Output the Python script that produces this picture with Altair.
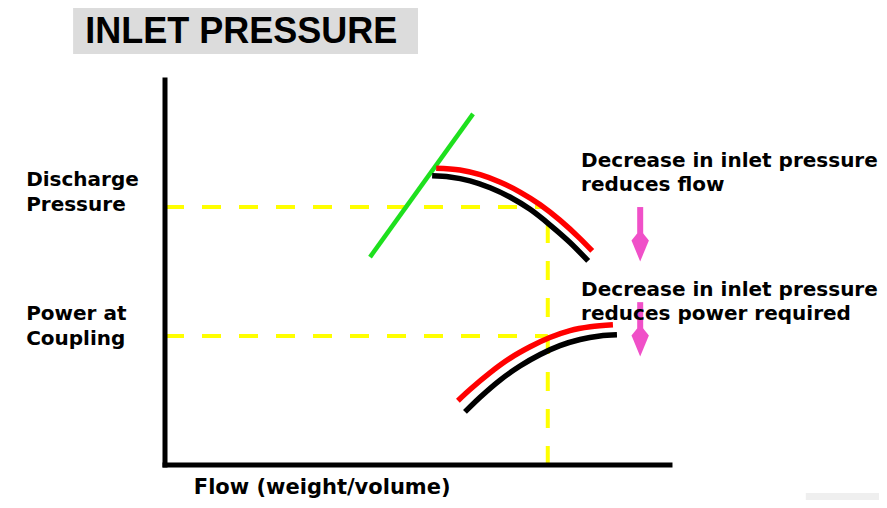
import altair as alt
import pandas as pd

# ---- chart values (schematic units: flow 0-100 along x axis, 0-100 along y axis) ----
X_DOMAIN = [-31.09, 141.39]
Y_DOMAIN = [-9.09, 118.70]

AXIS_FLOW = [0, 100]
AXIS_VALUE = [0, 100]

# pump head curves (discharge pressure)
head_flow_black = [52.9, 56.4, 60.4, 64.4, 68.3, 72.3, 76.2, 80.2, 83.8]
head_black = [75.1, 74.8, 73.8, 72.0, 69.6, 66.4, 62.4, 57.8, 53.0]
head_flow_red = [53.7, 58.4, 62.4, 66.3, 70.3, 74.3, 78.2, 82.2, 84.6]
head_red = [77.1, 76.6, 75.4, 73.5, 70.9, 67.6, 63.6, 58.8, 55.6]

# power curves
power_flow_black = [59.4, 62.4, 66.3, 70.3, 74.3, 78.2, 82.2, 86.1, 89.5]
power_black = [13.8, 17.6, 22.0, 25.7, 28.7, 31.0, 32.6, 33.5, 33.8]
power_flow_red = [58.0, 60.4, 64.4, 68.3, 72.3, 76.2, 80.2, 84.2, 88.7]
power_red = [16.7, 19.6, 24.0, 27.7, 30.7, 33.1, 34.9, 35.9, 36.4]

# system curve (green)
system_flow = [40.6, 61.0]
system_head = [54.0, 91.2]

# operating point guides
DISCHARGE_LEVEL = 67.0
DISCHARGE_END = 75.0
POWER_LEVEL = 33.5
OPERATING_FLOW = 75.8

# arrows
arrow_flow = [94.1, 94.1]
arrow_top = [67.0, 42.3]
arrow_head = [56.5, 31.8]

# texts
title_text = "INLET PRESSURE"
title_pos = [-15.8, 109.6]
title_box = [-18.2, 50.1, 106.75, 120.0]
left_labels = [["Discharge", "Pressure"], ["Power at", "Coupling"]]
left_label_y = [72.5, 37.7]
left_label_x = -27.5
notes = [["Decrease in inlet pressure", "reduces flow"],
         ["Decrease in inlet pressure", "reduces power required"]]
notes_y = [77.5, 43.9]
notes_x = 82.4
x_label = "Flow (weight/volume)"
x_label_pos = [5.7, -7.5]
corner_box = [126.9, 141.4, -9.1, -7.3]

xs = alt.Scale(domain=X_DOMAIN, nice=False, zero=False)
ys = alt.Scale(domain=Y_DOMAIN, nice=False, zero=False)


def X(f):
    return alt.X(f, type="quantitative", scale=xs, axis=None)


def Y(f):
    return alt.Y(f, type="quantitative", scale=ys, axis=None)


def X2(f):
    return alt.X2(f)


def Y2(f):
    return alt.Y2(f)


# boxes
box_df = pd.DataFrame({
    "x": [title_box[0], corner_box[0]], "x2": [title_box[1], corner_box[1]],
    "y": [title_box[2], corner_box[2]], "y2": [title_box[3], corner_box[3]],
    "c": ["#dcdcdc", "#efefef"],
})
boxes = alt.Chart(box_df).mark_rect().encode(
    x=X("x"), x2=X2("x2"), y=Y("y"), y2=Y2("y2"),
    color=alt.Color("c:N", scale=None),
)

title = alt.Chart(pd.DataFrame({"x": [title_pos[0]], "y": [title_pos[1]], "t": [title_text]})).mark_text(
    font="Liberation Sans", fontWeight="bold", fontSize=36, align="left", baseline="alphabetic", color="#000000"
).encode(x=X("x"), y=Y("y"), text="t:N")

# yellow dashed guides
guide_df = pd.DataFrame({
    "x": [0, 0, OPERATING_FLOW],
    "x2": [DISCHARGE_END, OPERATING_FLOW, OPERATING_FLOW],
    "y": [DISCHARGE_LEVEL, POWER_LEVEL, 0],
    "y2": [DISCHARGE_LEVEL, POWER_LEVEL, DISCHARGE_LEVEL],
})
guides = alt.Chart(guide_df).mark_rule(color="#ffff00", strokeWidth=4, strokeDash=[19, 18]).encode(
    x=X("x"), x2=X2("x2"), y=Y("y"), y2=Y2("y2")
)

system = alt.Chart(pd.DataFrame({"x": system_flow, "y": system_head})).mark_line(
    color="#1ee01e", strokeWidth=4.5, strokeCap="butt"
).encode(x=X("x"), y=Y("y"))


def curve(flow, val, color):
    df = pd.DataFrame({"x": flow, "y": val, "i": list(range(len(flow)))})
    return alt.Chart(df).mark_line(color=color, strokeWidth=5.5, strokeCap="butt", interpolate="monotone").encode(
        x=X("x"), y=Y("y"), order="i:Q"
    )


curves = [
    curve(head_flow_black, head_black, "#000000"),
    curve(head_flow_red, head_red, "#ff0000"),
    curve(power_flow_black, power_black, "#000000"),
    curve(power_flow_red, power_red, "#ff0000"),
]

axes_df = pd.DataFrame({
    "x": [AXIS_FLOW[0], AXIS_FLOW[0]], "x2": [AXIS_FLOW[1], AXIS_FLOW[0]],
    "y": [AXIS_VALUE[0], AXIS_VALUE[0]], "y2": [AXIS_VALUE[0], AXIS_VALUE[1]],
})
axes = alt.Chart(axes_df).mark_rule(color="#000000", strokeWidth=5, strokeCap="square").encode(
    x=X("x"), x2=X2("x2"), y=Y("y"), y2=Y2("y2")
)

arrow_df = pd.DataFrame({"x": arrow_flow, "y": arrow_top, "y2": arrow_head})
shafts = alt.Chart(arrow_df).mark_rule(color="#f050c8", strokeWidth=6).encode(
    x=X("x"), y=Y("y"), y2=Y2("y2")
)
heads = alt.Chart(arrow_df).mark_point(
    shape="M0,1 L-0.62,-0.5 L-0.22,-1 L0.22,-1 L0.62,-0.5 Z",
    filled=True, color="#f050c8", opacity=1, size=784, strokeWidth=0,
).encode(x=X("x"), y=Y("y2"))

left_df = pd.DataFrame({"x": [left_label_x] * 2, "y": left_label_y, "t": left_labels})
left_text = alt.Chart(left_df).mark_text(
    font="DejaVu Sans", fontWeight="bold", fontSize=20, align="left", baseline="alphabetic",
    lineHeight=25, color="#000000"
).encode(x=X("x"), y=Y("y"), text="t")

notes_df = pd.DataFrame({"x": [notes_x] * 2, "y": notes_y, "t": notes})
notes_text = alt.Chart(notes_df).mark_text(
    font="DejaVu Sans", fontWeight="bold", fontSize=20, align="left", baseline="alphabetic",
    lineHeight=24, color="#000000"
).encode(x=X("x"), y=Y("y"), text="t")

xlab = alt.Chart(pd.DataFrame({"x": [x_label_pos[0]], "y": [x_label_pos[1]], "t": [x_label]})).mark_text(
    font="DejaVu Sans", fontWeight="bold", fontSize=21, align="left", baseline="alphabetic", color="#000000"
).encode(x=X("x"), y=Y("y"), text="t:N")

chart = alt.layer(
    boxes, title, guides, system, *curves, axes, shafts, heads, left_text, notes_text, xlab
).properties(
    width=871, height=492, padding=0, autosize=alt.AutoSizeParams(type="none"), background="#ffffff"
).configure_view(stroke=None)

chart.save("out.html", embed_options={"renderer": "svg", "actions": False})
